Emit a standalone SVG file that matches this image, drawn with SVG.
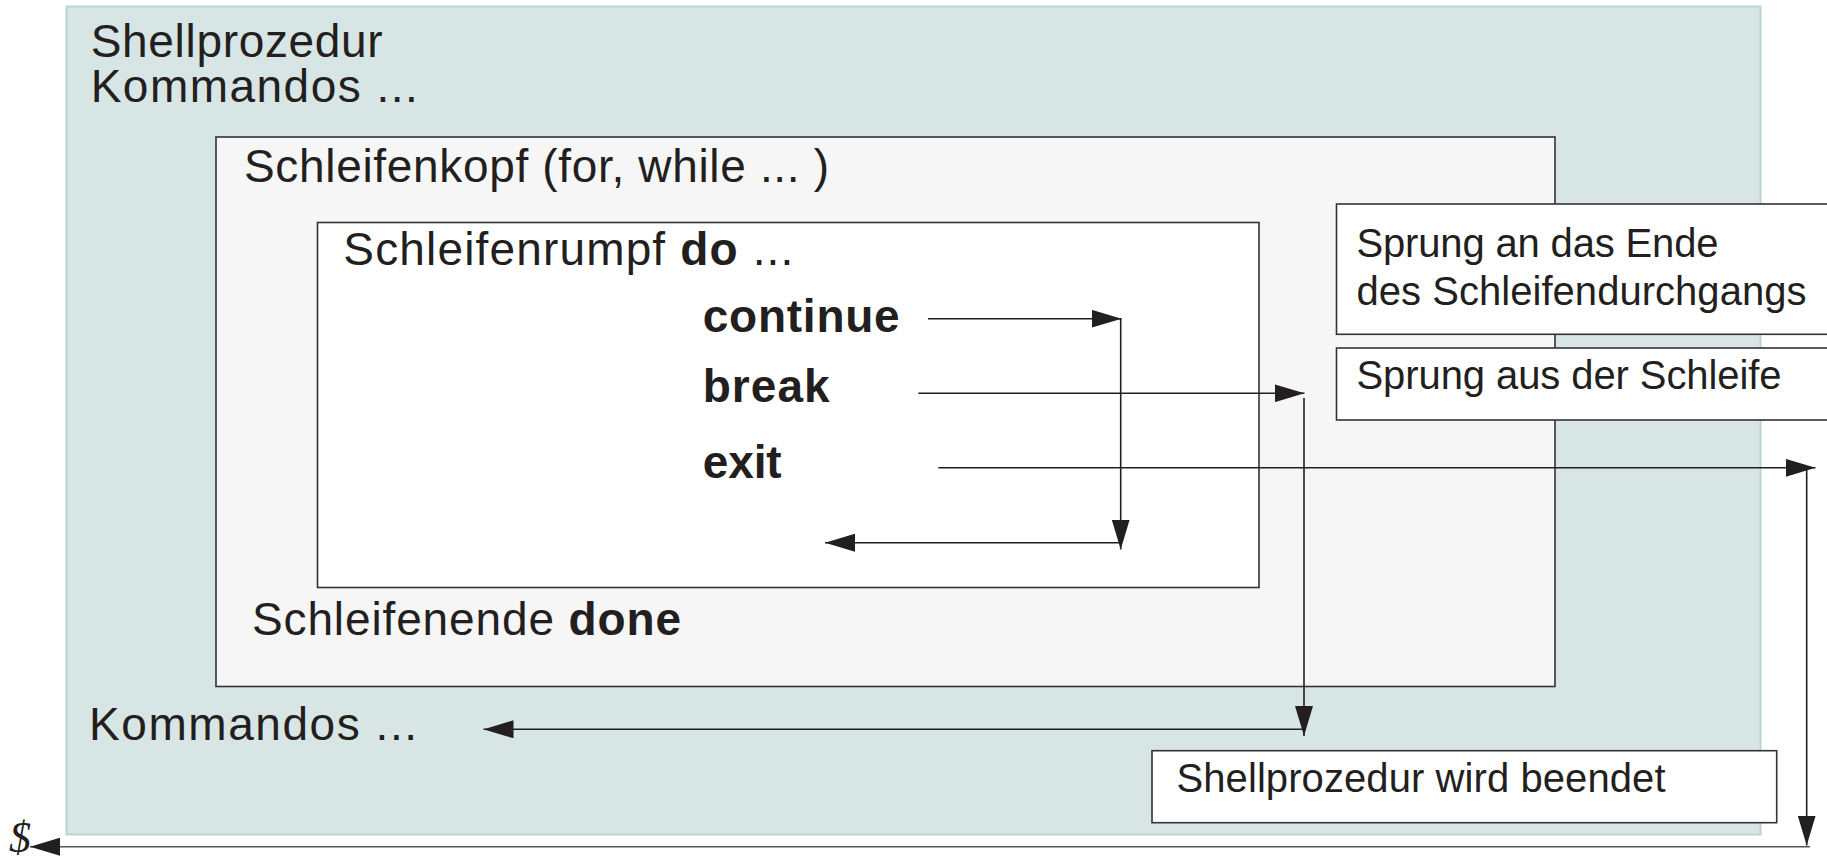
<svg xmlns="http://www.w3.org/2000/svg" width="1827" height="860" viewBox="0 0 1827 860">
<style>
text{font-family:"Liberation Sans",Arial,Helvetica,sans-serif;fill:#231f20}
.big{font-size:46px}
.small{font-size:40px}
.b{font-weight:bold}
.box{stroke:#333;stroke-width:1.6}
.ln{fill:none;stroke:#231f20;stroke-width:1.6}
</style>
<defs>
<marker id="ah" markerUnits="userSpaceOnUse" markerWidth="30" markerHeight="18" refX="30" refY="9" orient="auto">
<path d="M0,0 L30,9 L0,18 z" fill="#231f20"/>
</marker>
</defs>
<g id="shellprozedur">
<rect x="66.5" y="6.5" width="1694" height="828" fill="#d7e5e4" stroke="#bcd4d1" stroke-width="2"/>
<text class="big" x="90.7" y="57.3" textLength="292" lengthAdjust="spacing">Shellprozedur</text>
<text class="big" x="90.7" y="102.3" textLength="327" lengthAdjust="spacing">Kommandos ...</text>
<text class="big" x="89" y="740" textLength="328" lengthAdjust="spacing">Kommandos ...</text>
</g>
<g id="schleifenkopf">
<rect class="box" x="216" y="137" width="1339" height="549.5" fill="#f6f6f6"/>
<text class="big" x="244" y="182.3" textLength="585" lengthAdjust="spacing">Schleifenkopf (for, while ... )</text>
<text class="big" x="252" y="635" textLength="429" lengthAdjust="spacing">Schleifenende <tspan class="b">done</tspan></text>
</g>
<g id="schleifenrumpf">
<rect class="box" x="317.5" y="222.5" width="941.5" height="365" fill="#ffffff"/>
<text class="big" x="343.3" y="265" textLength="450" lengthAdjust="spacing">Schleifenrumpf <tspan class="b">do</tspan> ...</text>
<text class="big b" x="702.7" y="331.7" textLength="197" lengthAdjust="spacing">continue</text>
<text class="big b" x="702.7" y="401.7" textLength="127" lengthAdjust="spacing">break</text>
<text class="big b" x="702.7" y="478.3" textLength="79" lengthAdjust="spacing">exit</text>
</g>
<g id="note-continue">
<rect class="box" x="1336.5" y="204" width="500" height="130.3" fill="#ffffff"/>
<text class="small" x="1356.5" y="257.3" textLength="362" lengthAdjust="spacing">Sprung an das Ende</text>
<text class="small" x="1356.5" y="305" textLength="450" lengthAdjust="spacing">des Schleifendurchgangs</text>
</g>
<g id="note-break">
<rect class="box" x="1336.5" y="348" width="500" height="72" fill="#ffffff"/>
<text class="small" x="1356.5" y="389.3" textLength="425" lengthAdjust="spacing">Sprung aus der Schleife</text>
</g>
<g id="note-exit">
<rect class="box" x="1152" y="750.7" width="624.7" height="72" fill="#ffffff"/>
<text class="small" x="1176.5" y="792" textLength="489" lengthAdjust="spacing">Shellprozedur wird beendet</text>
</g>
<g id="prompt">
<text x="9" y="852" style="font-family:'Liberation Serif','Times New Roman',serif;font-style:italic;font-size:44px">$</text>
</g>
<g id="connectors">
<path class="ln" d="M928,318.7 H1121.5" marker-end="url(#ah)"/>
<path class="ln" d="M1120.7,318.7 V549.5" marker-end="url(#ah)"/>
<path class="ln" d="M1120.7,542.7 H825" marker-end="url(#ah)"/>
<path class="ln" d="M918.3,393.3 H1304.5" marker-end="url(#ah)"/>
<path class="ln" d="M1304,398 V736" marker-end="url(#ah)"/>
<path class="ln" d="M1304,729.3 H483.5" marker-end="url(#ah)"/>
<path class="ln" d="M938.3,467.8 H1815.5" marker-end="url(#ah)"/>
<path class="ln" d="M1806.7,467.8 V845.5" marker-end="url(#ah)"/>
<path class="ln" d="M1810,846.7 H30" marker-end="url(#ah)" style="stroke:#555"/>
</g>
</svg>
